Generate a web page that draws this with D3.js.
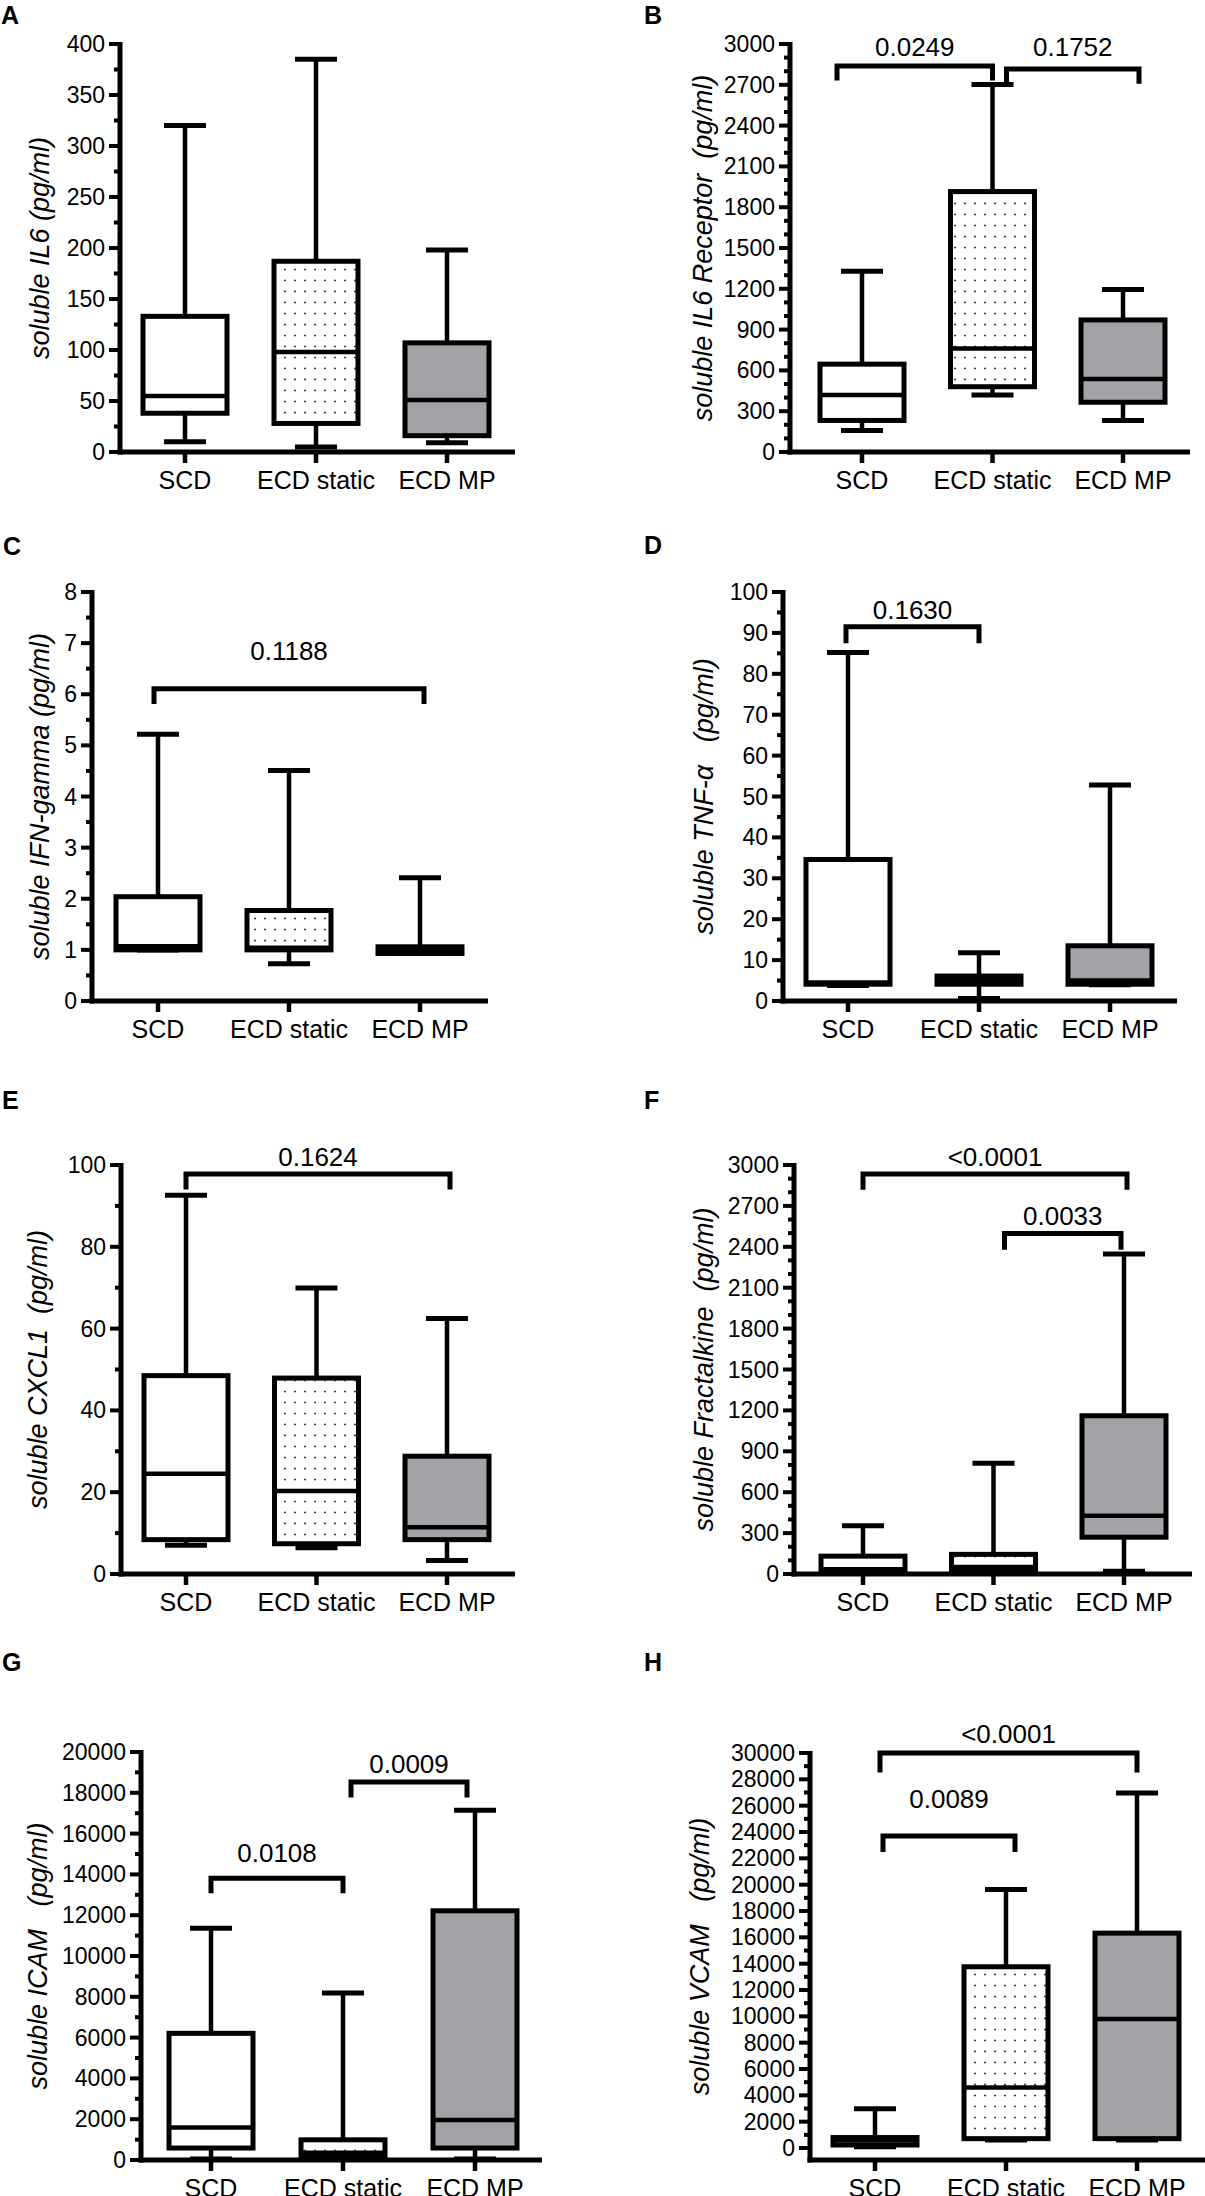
<!DOCTYPE html>
<html>
<head>
<meta charset="utf-8">
<script src="https://cdn.jsdelivr.net/npm/d3@7"></script>
<style>
  body { margin: 0; background: #fff; }
  svg { display: block; }
  text { font-family: "Liberation Sans", Arial, sans-serif; fill: #000; }
</style>
</head>
<body>
<svg id="fig" width="1205" height="2196"></svg>
<script>
// Groups on the x axis
const groups = ["SCD", "ECD static", "ECD MP"];

// Box summaries per group: [min, q1, median, q3, max]
const il6   = [[10, 38, 55, 133, 320], [5, 28, 98, 187, 385], [9, 16, 51, 107, 198]];
const il6r  = [[159, 232, 420, 646, 1329], [420, 480, 761, 1915, 2702], [232, 366, 537, 971, 1195]];
const ifng  = [[1.0, 1.0, 1.07, 2.04, 5.22], [0.73, 1.0, 1.04, 1.77, 4.51], [0.93, 0.93, 1.0, 1.06, 2.41]];
const tnfa  = [[3.8, 4.1, 4.5, 34.6, 85.2], [0.6, 4.1, 5.1, 6.1, 11.8], [4.0, 4.1, 5.0, 13.5, 52.8]];
const cxcl1 = [[7.0, 8.4, 24.5, 48.5, 92.6], [6.4, 7.4, 20.3, 47.9, 69.9], [3.3, 8.4, 11.4, 28.8, 62.5]];
const fkn   = [[5, 21, 34, 131, 354], [5, 21, 52, 144, 812], [21, 270, 427, 1161, 2348]];
const icam  = [[50, 586, 1593, 6209, 11355], [30, 150, 350, 989, 8187], [50, 586, 1960, 12216, 17143]];
const vcam  = [[100, 227, 570, 795, 2980], [600, 710, 4598, 13765, 19640], [600, 710, 9790, 16320, 26960]];

// p-value brackets: [from group, to group, bar value, leg end value, label value, label]
const bracketsB = [[0, 1, 2839, 2732, 2912, "0.0249"], [1, 2, 2817, 2707, 2912, "0.1752"]];
const bracketsC = [[0, 2, 6.11, 5.81, 6.67, "0.1188"]];
const bracketsD = [[0, 1, 91.5, 87.5, 93.5, "0.1630"]];
const bracketsE = [[0, 2, 97.8, 94.0, 99.8, "0.1624"]];
const bracketsF = [[0, 2, 2934, 2819, 2993, "<0.0001"], [1, 2, 2497, 2379, 2560, "0.0033"]];
const bracketsG = [[0, 1, 13810, 13077, 14608, "0.0108"], [1, 2, 18535, 17765, 18970, "0.0009"]];
const bracketsH = [[0, 2, 30000, 28520, 30760, "<0.0001"], [0, 1, 23700, 22480, 25820, "0.0089"]];

// Panel layout (pixel positions live here, not in the data)
const panels = [
  { letter: "A", lx: 1, ly: 15, data: il6, br: [], title: "soluble IL6 (pg/ml)", max: 400, step: 50, minor: 25,
    ax: 120, top: 44, y0: 452, cats: [185, 447], end: 515, tx: 40, nudge: [] },
  { letter: "B", lx: 644, ly: 15, data: il6r, br: bracketsB, title: "soluble IL6 Receptor  (pg/ml)", max: 3000, step: 300, minor: 100,
    ax: 790, top: 44, y0: 452, cats: [862, 1123], end: 1190, tx: 703, nudge: [[-25, 0], [14, 16]] },
  { letter: "C", lx: 3, ly: 546, data: ifng, br: bracketsC, title: "soluble IFN-gamma (pg/ml)", max: 8, step: 1, minor: 0.5,
    ax: 92, top: 592, y0: 1001, cats: [158, 420], end: 488, tx: 40, nudge: [[-4, 4]] },
  { letter: "D", lx: 644, ly: 545, data: tnfa, br: bracketsD, title: "soluble TNF-\u03b1   (pg/ml)", max: 100, step: 10, minor: 5,
    ax: 783, top: 592, y0: 1001, cats: [848, 1110], end: 1177, tx: 704, nudge: [[-2, 0]] },
  { letter: "E", lx: 2, ly: 1100, data: cxcl1, br: bracketsE, title: "soluble CXCL1  (pg/ml)", max: 100, step: 20, minor: 10,
    ax: 121, top: 1165, y0: 1574, cats: [186, 447], end: 515, tx: 38, nudge: [[0, 3]] },
  { letter: "F", lx: 644, ly: 1100, data: fkn, br: bracketsF, title: "soluble Fractalkine  (pg/ml)", max: 3000, step: 300, minor: 100,
    ax: 794, top: 1165, y0: 1574, cats: [863, 1124], end: 1192, tx: 704, nudge: [[0, 3], [11, -3]] },
  { letter: "G", lx: 2, ly: 1662, data: icam, br: bracketsG, title: "soluble ICAM   (pg/ml)", max: 20000, step: 2000, minor: 1000,
    ax: 141, top: 1752, y0: 2160, cats: [211, 475], end: 542, tx: 38, nudge: [[0, 0], [8, -8]] },
  { letter: "H", lx: 644, ly: 1662, data: vcam, br: bracketsH, title: "soluble VCAM   (pg/ml)", max: 30000, step: 2000, minor: 1000,
    ax: 810, top: 1753, y0: 2148, xAxisY: 2160, cats: [875, 1137], end: 1210, tx: 700, nudge: [[5, 0], [8, 9]] }
];

const svg = d3.select("#fig");

// Dotted fill for the "ECD static" boxes
const defs = svg.append("defs");
const pat = defs.append("pattern")
  .attr("id", "dots")
  .attr("patternUnits", "userSpaceOnUse")
  .attr("width", 10)
  .attr("height", 11);
pat.append("rect").attr("width", 10).attr("height", 11).attr("fill", "#fff");
pat.append("circle").attr("cx", 5).attr("cy", 5.5).attr("r", 1.1).attr("fill", "#444");

const fills = ["#fff", "url(#dots)", "#a3a3a7"];
const BOX_W = 84, CAP_W = 42, SW = 5;

panels.forEach(p => {
  const g = svg.append("g");
  const xAxisY = p.xAxisY || p.y0;

  const x = d3.scalePoint().domain(groups).range(p.cats);
  const y = d3.scaleLinear().domain([0, p.max]).range([p.y0, p.top]);

  // panel letter
  g.append("text")
    .attr("x", p.lx)
    .attr("y", p.ly + 9)
    .attr("font-size", 25)
    .attr("font-weight", "bold")
    .text(p.letter);

  // y axis title
  g.append("text")
    .attr("transform", `translate(${p.tx},${(p.top + xAxisY) / 2}) rotate(-90)`)
    .attr("text-anchor", "middle")
    .attr("dominant-baseline", "central")
    .attr("font-size", 27)
    .attr("font-style", "italic")
    .style("white-space", "pre")
    .text(p.title);

  // minor ticks
  const minors = d3.range(0, p.max + p.minor / 2, p.minor)
    .filter(v => Math.abs(v / p.step - Math.round(v / p.step)) > 1e-6);
  g.selectAll(".minor")
    .data(minors)
    .join("line")
    .attr("x1", p.ax - 6).attr("x2", p.ax)
    .attr("y1", d => y(d)).attr("y2", d => y(d))
    .attr("stroke", "#000").attr("stroke-width", 4);

  // major ticks and labels
  const majors = d3.range(0, p.max + p.step / 2, p.step);
  g.selectAll(".major")
    .data(majors)
    .join("line")
    .attr("x1", p.ax - 11).attr("x2", p.ax)
    .attr("y1", d => y(d)).attr("y2", d => y(d))
    .attr("stroke", "#000").attr("stroke-width", 4);
  g.selectAll(".tlab")
    .data(majors)
    .join("text")
    .attr("x", p.ax - 15)
    .attr("y", d => y(d))
    .attr("text-anchor", "end")
    .attr("dominant-baseline", "central")
    .attr("font-size", 23)
    .text(d => d3.format("d")(d));

  // axis lines
  g.append("line")
    .attr("x1", p.ax).attr("x2", p.ax)
    .attr("y1", p.top - 2).attr("y2", xAxisY + 2.5)
    .attr("stroke", "#000").attr("stroke-width", SW);
  g.append("line")
    .attr("x1", p.ax - 2.5).attr("x2", p.end)
    .attr("y1", xAxisY).attr("y2", xAxisY)
    .attr("stroke", "#000").attr("stroke-width", SW);

  // category ticks and labels
  g.selectAll(".ctick")
    .data(groups)
    .join("line")
    .attr("x1", d => x(d)).attr("x2", d => x(d))
    .attr("y1", xAxisY).attr("y2", xAxisY + 11)
    .attr("stroke", "#000").attr("stroke-width", 4.5);
  g.selectAll(".clab")
    .data(groups)
    .join("text")
    .attr("x", d => x(d))
    .attr("y", xAxisY + 37)
    .attr("text-anchor", "middle")
    .attr("font-size", 25)
    .text(d => d);

  // boxes
  const boxes = g.selectAll(".box")
    .data(p.data.map((v, i) => ({ grp: groups[i], i, v })))
    .join("g");

  // whiskers
  boxes.append("line")
    .attr("x1", d => x(d.grp)).attr("x2", d => x(d.grp))
    .attr("y1", d => y(d.v[0])).attr("y2", d => y(d.v[1]))
    .attr("stroke", "#000").attr("stroke-width", 4.5);
  boxes.append("line")
    .attr("x1", d => x(d.grp)).attr("x2", d => x(d.grp))
    .attr("y1", d => y(d.v[3])).attr("y2", d => y(d.v[4]))
    .attr("stroke", "#000").attr("stroke-width", 4.5);
  // caps
  [0, 4].forEach(k => {
    boxes.append("line")
      .attr("x1", d => x(d.grp) - CAP_W / 2).attr("x2", d => x(d.grp) + CAP_W / 2)
      .attr("y1", d => y(d.v[k])).attr("y2", d => y(d.v[k]))
      .attr("stroke", "#000").attr("stroke-width", 5);
  });
  // box body
  boxes.append("rect")
    .attr("x", d => x(d.grp) - BOX_W / 2)
    .attr("y", d => y(d.v[3]))
    .attr("width", BOX_W)
    .attr("height", d => Math.max(0.5, y(d.v[1]) - y(d.v[3])))
    .attr("fill", d => fills[d.i])
    .attr("stroke", "#000")
    .attr("stroke-width", SW);
  // median
  boxes.append("line")
    .attr("x1", d => x(d.grp) - BOX_W / 2).attr("x2", d => x(d.grp) + BOX_W / 2)
    .attr("y1", d => y(d.v[2])).attr("y2", d => y(d.v[2]))
    .attr("stroke", "#000").attr("stroke-width", 4.5);

  // significance brackets
  p.br.forEach((b, j) => {
    const [from, to, top, leg, labV, label] = b;
    const nd = p.nudge[j] || [0, 0];
    const xa = x(groups[from]) + nd[0];
    const xb = x(groups[to]) + nd[1];
    g.append("path")
      .attr("d", `M${xa},${y(leg)}V${y(top)}H${xb}V${y(leg)}`)
      .attr("fill", "none")
      .attr("stroke", "#000")
      .attr("stroke-width", SW);
    g.append("text")
      .attr("x", (xa + xb) / 2)
      .attr("y", y(labV))
      .attr("text-anchor", "middle")
      .attr("font-size", 26)
      .text(label);
  });
});
</script>
</body>
</html>
